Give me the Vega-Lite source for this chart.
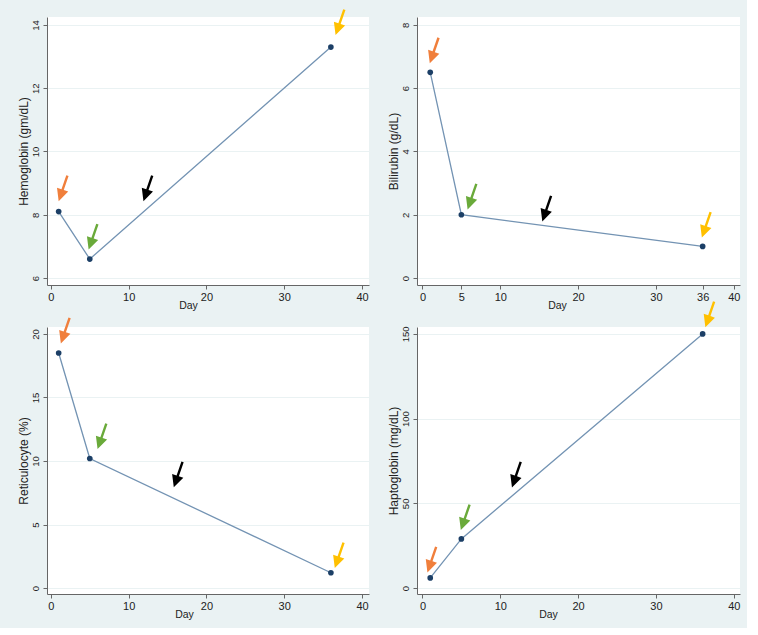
{
  "$schema": "https://vega.github.io/schema/vega-lite/v6.json",
  "background": "#eaf2f3",
  "padding": {"left": 17, "top": 9, "right": 7, "bottom": 8},
  "bounds": "flush",
  "columns": 2,
  "spacing": {"row": 42, "column": 48},
  "datasets": {
    "readings": [
      {"test": "Hemoglobin", "day": 1, "value": 8.1},
      {"test": "Hemoglobin", "day": 5, "value": 6.6},
      {"test": "Hemoglobin", "day": 36, "value": 13.3},
      {"test": "Bilirubin", "day": 1, "value": 6.5},
      {"test": "Bilirubin", "day": 5, "value": 2.0},
      {"test": "Bilirubin", "day": 36, "value": 1.0},
      {"test": "Reticulocyte", "day": 1, "value": 18.5},
      {"test": "Reticulocyte", "day": 5, "value": 10.2},
      {"test": "Reticulocyte", "day": 36, "value": 1.2},
      {"test": "Haptoglobin", "day": 1, "value": 6},
      {"test": "Haptoglobin", "day": 5, "value": 29},
      {"test": "Haptoglobin", "day": 36, "value": 150}
    ],
    "arrows": [
      {"test": "Hemoglobin", "mark": "Day 1", "day": 1.0, "value": 8.43},
      {"test": "Hemoglobin", "mark": "Day 5", "day": 4.85, "value": 6.9},
      {"test": "Hemoglobin", "mark": "Trend", "day": 11.9, "value": 8.43},
      {"test": "Hemoglobin", "mark": "Day 36", "day": 36.6, "value": 13.68},
      {"test": "Bilirubin", "mark": "Day 1", "day": 0.94, "value": 6.79},
      {"test": "Bilirubin", "mark": "Day 5", "day": 5.8, "value": 2.17},
      {"test": "Bilirubin", "mark": "Trend", "day": 15.4, "value": 1.79},
      {"test": "Bilirubin", "mark": "Day 36", "day": 35.9, "value": 1.28},
      {"test": "Reticulocyte", "mark": "Day 1", "day": 1.28, "value": 19.26},
      {"test": "Reticulocyte", "mark": "Day 5", "day": 6.0, "value": 10.94},
      {"test": "Reticulocyte", "mark": "Trend", "day": 15.8, "value": 7.93},
      {"test": "Reticulocyte", "mark": "Day 36", "day": 36.5, "value": 1.57},
      {"test": "Haptoglobin", "mark": "Day 1", "day": 0.64, "value": 9.25},
      {"test": "Haptoglobin", "mark": "Day 5", "day": 4.93, "value": 34.25},
      {"test": "Haptoglobin", "mark": "Trend", "day": 11.5, "value": 59.4},
      {"test": "Haptoglobin", "mark": "Day 36", "day": 36.35, "value": 154}
    ]
  },
  "concat": [
    {
      "width": 322,
      "height": 268,
      "encoding": {
        "x": {"field": "day", "type": "quantitative", "scale": {"domain": [-0.5, 40.9], "nice": false, "zero": false},
              "axis": {"values": [0, 10, 20, 30, 40], "title": "Day", "titleX": 141}},
        "y": {"field": "value", "type": "quantitative", "scale": {"domain": [5.78, 14.25], "nice": false, "zero": false},
              "axis": {"values": [6, 8, 10, 12, 14], "title": "Hemoglobin (gm/dL)"}}
      },
      "layer": [
        {"data": {"name": "readings"}, "transform": [{"filter": "datum.test === 'Hemoglobin'"}],
         "mark": {"type": "line", "color": "#7393b3", "strokeWidth": 1.3}},
        {"data": {"name": "readings"}, "transform": [{"filter": "datum.test === 'Hemoglobin'"}],
         "mark": {"type": "point", "filled": true, "color": "#1c3f66", "size": 32, "opacity": 1}},
        {"data": {"name": "arrows"}, "transform": [{"filter": "datum.test === 'Hemoglobin'"}],
         "mark": {"type": "point", "shape": "M0,0 L-0.22,-0.45 L-0.045,-0.45 L-0.045,-1 L0.045,-1 L0.045,-0.45 L0.22,-0.45 Z", "angle": 19, "size": 2900, "filled": true, "opacity": 1, "strokeWidth": 0},
         "encoding": {"color": {"field": "mark", "type": "nominal", "legend": null,
           "scale": {"domain": ["Day 1", "Day 5", "Trend", "Day 36"], "range": ["#f07f3c", "#6aaa3a", "#000000", "#ffc000"]}}}}
      ]
    },
    {
      "width": 323,
      "height": 268,
      "encoding": {
        "x": {"field": "day", "type": "quantitative", "scale": {"domain": [-0.7, 40.8], "nice": false, "zero": false},
              "axis": {"values": [0, 5, 10, 20, 30, 36, 40], "title": "Day", "titleX": 140}},
        "y": {"field": "value", "type": "quantitative", "scale": {"domain": [-0.22, 8.25], "nice": false, "zero": false},
              "axis": {"values": [0, 2, 4, 6, 8], "title": "Bilirubin (g/dL)"}}
      },
      "layer": [
        {"data": {"name": "readings"}, "transform": [{"filter": "datum.test === 'Bilirubin'"}],
         "mark": {"type": "line", "color": "#7393b3", "strokeWidth": 1.3}},
        {"data": {"name": "readings"}, "transform": [{"filter": "datum.test === 'Bilirubin'"}],
         "mark": {"type": "point", "filled": true, "color": "#1c3f66", "size": 32, "opacity": 1}},
        {"data": {"name": "arrows"}, "transform": [{"filter": "datum.test === 'Bilirubin'"}],
         "mark": {"type": "point", "shape": "M0,0 L-0.22,-0.45 L-0.045,-0.45 L-0.045,-1 L0.045,-1 L0.045,-0.45 L0.22,-0.45 Z", "angle": 19, "size": 2900, "filled": true, "opacity": 1, "strokeWidth": 0},
         "encoding": {"color": {"field": "mark", "type": "nominal", "legend": null,
           "scale": {"domain": ["Day 1", "Day 5", "Trend", "Day 36"], "range": ["#f07f3c", "#6aaa3a", "#000000", "#ffc000"]}}}}
      ]
    },
    {
      "width": 322,
      "height": 267,
      "encoding": {
        "x": {"field": "day", "type": "quantitative", "scale": {"domain": [-0.5, 40.9], "nice": false, "zero": false},
              "axis": {"values": [0, 10, 20, 30, 40], "title": "Day", "titleX": 137}},
        "y": {"field": "value", "type": "quantitative", "scale": {"domain": [-0.47, 20.55], "nice": false, "zero": false},
              "axis": {"values": [0, 5, 10, 15, 20], "title": "Reticulocyte (%)"}}
      },
      "layer": [
        {"data": {"name": "readings"}, "transform": [{"filter": "datum.test === 'Reticulocyte'"}],
         "mark": {"type": "line", "color": "#7393b3", "strokeWidth": 1.3}},
        {"data": {"name": "readings"}, "transform": [{"filter": "datum.test === 'Reticulocyte'"}],
         "mark": {"type": "point", "filled": true, "color": "#1c3f66", "size": 32, "opacity": 1}},
        {"data": {"name": "arrows"}, "transform": [{"filter": "datum.test === 'Reticulocyte'"}],
         "mark": {"type": "point", "shape": "M0,0 L-0.22,-0.45 L-0.045,-0.45 L-0.045,-1 L0.045,-1 L0.045,-0.45 L0.22,-0.45 Z", "angle": 19, "size": 2900, "filled": true, "opacity": 1, "strokeWidth": 0},
         "encoding": {"color": {"field": "mark", "type": "nominal", "legend": null,
           "scale": {"domain": ["Day 1", "Day 5", "Trend", "Day 36"], "range": ["#f07f3c", "#6aaa3a", "#000000", "#ffc000"]}}}}
      ]
    },
    {
      "width": 323,
      "height": 267,
      "encoding": {
        "x": {"field": "day", "type": "quantitative", "scale": {"domain": [-0.7, 40.8], "nice": false, "zero": false},
              "axis": {"values": [0, 10, 20, 30, 40], "title": "Day", "titleX": 131}},
        "y": {"field": "value", "type": "quantitative", "scale": {"domain": [-3.5, 154.1], "nice": false, "zero": false},
              "axis": {"values": [0, 50, 100, 150], "title": "Haptoglobin (mg/dL)"}}
      },
      "layer": [
        {"data": {"name": "readings"}, "transform": [{"filter": "datum.test === 'Haptoglobin'"}],
         "mark": {"type": "line", "color": "#7393b3", "strokeWidth": 1.3}},
        {"data": {"name": "readings"}, "transform": [{"filter": "datum.test === 'Haptoglobin'"}],
         "mark": {"type": "point", "filled": true, "color": "#1c3f66", "size": 32, "opacity": 1}},
        {"data": {"name": "arrows"}, "transform": [{"filter": "datum.test === 'Haptoglobin'"}],
         "mark": {"type": "point", "shape": "M0,0 L-0.22,-0.45 L-0.045,-0.45 L-0.045,-1 L0.045,-1 L0.045,-0.45 L0.22,-0.45 Z", "angle": 19, "size": 2900, "filled": true, "opacity": 1, "strokeWidth": 0},
         "encoding": {"color": {"field": "mark", "type": "nominal", "legend": null,
           "scale": {"domain": ["Day 1", "Day 5", "Trend", "Day 36"], "range": ["#f07f3c", "#6aaa3a", "#000000", "#ffc000"]}}}}
      ]
    }
  ],
  "config": {
    "view": {"fill": "white", "stroke": null},
    "axis": {
      "labelFont": "Liberation Sans",
      "titleFont": "Liberation Sans",
      "labelColor": "#222222",
      "titleColor": "#222222",
      "titleFontWeight": "normal",
      "domainColor": "#666666",
      "tickColor": "#666666",
      "tickSize": 4,
      "gridColor": "#eaf2f3",
      "labelFlush": false,
      "labelOverlap": false
    },
    "axisX": {"grid": false, "labelFontSize": 11, "titleFontSize": 10.5, "titlePadding": -2, "labelPadding": 2},
    "axisY": {"grid": true, "labelAngle": -90, "labelAlign": "center", "labelBaseline": "bottom", "labelFontSize": 9.5, "titleFontSize": 12, "titlePadding": 0, "labelPadding": 3}
  }
}
